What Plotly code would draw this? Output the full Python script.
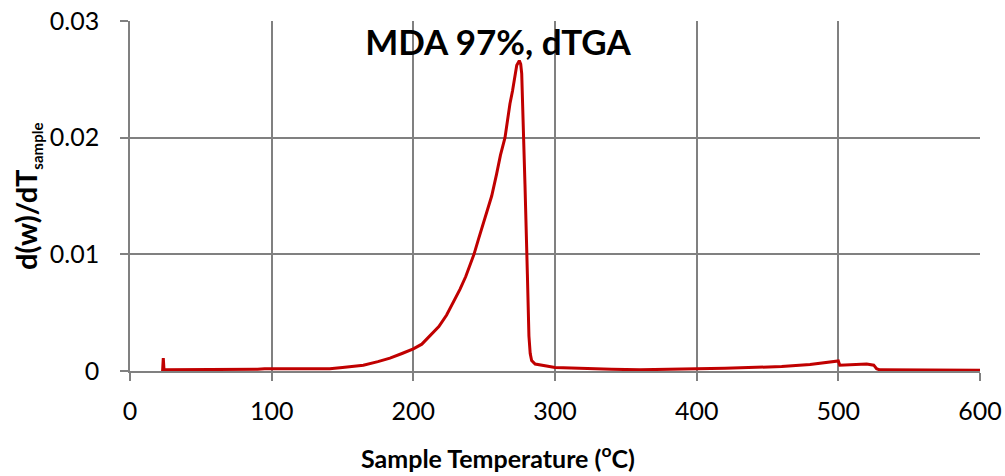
import plotly.graph_objects as go

# Sample temperature (°C) and dTGA values
temperature = [23, 23.5, 24, 30, 40, 50, 60, 70, 80, 90, 95, 100, 105, 110, 120, 130, 141, 150,
               164.7, 175, 183.5, 192, 200, 206, 211.8, 218, 223.5, 228, 232.9, 237, 240, 242.8,
               246, 249.4, 252, 255.3, 258.8, 261.5, 264.7, 267, 268.2, 270, 271.8, 273, 274.8,
               275.8, 276.5, 277.6, 278.8, 280.5, 281.6, 282.5, 283.5, 286, 289.4, 295, 300, 320,
               340, 360, 380, 400, 420, 440, 460, 480, 490, 499, 500, 501, 510, 520, 525, 527,
               529, 540, 560, 580, 600]
dtga = [0.0, 0.0011, 0.0001, 0.0001, 0.0001, 0.0001, 0.0001, 0.0001, 0.00012, 0.00015, 0.0002,
        0.0002, 0.00018, 0.00015, 0.00015, 0.00017, 0.0002, 0.0003,
        0.0005, 0.0008, 0.0011, 0.0015, 0.0019, 0.0023, 0.0030, 0.0038, 0.0048, 0.0058, 0.0070,
        0.0081, 0.0090, 0.0100, 0.0113, 0.0126, 0.0138, 0.0150, 0.0169, 0.0185, 0.0200, 0.0220,
        0.0229, 0.0240, 0.0252, 0.0262, 0.0266, 0.0263, 0.0255, 0.0200, 0.0160, 0.0083, 0.0030,
        0.0015, 0.0009, 0.0006, 0.0005, 0.0004, 0.0003, 0.0002,
        0.00015, 0.0001, 0.00012, 0.0002, 0.00024, 0.0003, 0.00038, 0.00055, 0.0007, 0.0008,
        0.00086, 0.0005, 0.00052, 0.0006, 0.0005, 0.0002, 0.0001, 0.0001, 0.00008, 0.00007,
        0.00006]

x_ticks = [0, 100, 200, 300, 400, 500, 600]
y_ticks = [0, 0.01, 0.02, 0.03]
y_tick_labels = ["0", "0.01", "0.02", "0.03"]

fig = go.Figure()
fig.add_trace(go.Scatter(x=temperature, y=dtga, mode="lines",
                         line=dict(color="#C00000", width=3), showlegend=False))

grid = "#808080"
fig.update_layout(
    width=1005, height=476,
    margin=dict(l=130, r=25, t=21, b=105, autoexpand=False),
    paper_bgcolor="white", plot_bgcolor="white",
    font=dict(family="Lato, Open Sans, sans-serif", color="black"),
    title=dict(text="<b>MDA 97%, dTGA</b>", x=0.4955, xanchor="center", xref="container",
               y=0.9097, yanchor="middle", yref="container",
               font=dict(size=35, color="black")),
    xaxis=dict(range=[0, 600], tickvals=x_ticks, showgrid=True, gridcolor=grid, gridwidth=1.5,
               showline=True, linecolor=grid, linewidth=1.5, ticks="outside", ticklen=8,
               tickcolor=grid, tickwidth=1.5, zeroline=False, tickfont=dict(size=25),
               ticklabelstandoff=9, automargin=False),
    yaxis=dict(range=[0, 0.03], tickvals=y_ticks, ticktext=y_tick_labels, showgrid=True,
               gridcolor=grid, gridwidth=1.5, showline=True, linecolor=grid, linewidth=1.5,
               ticks="outside", ticklen=8, tickcolor=grid, tickwidth=1.5, zeroline=False,
               tickfont=dict(size=25), ticklabelstandoff=16, automargin=False),
    annotations=[
        dict(text="<b>Sample Temperature (<sup>o</sup>C)</b>", xref="paper", yref="paper",
             x=0.4335, y=-0.2440, xanchor="center", yanchor="middle", showarrow=False,
             font=dict(size=25, color="black")),
        dict(text="<b>d(w)/dT<sub><span style='font-size:15px'>sample</span></sub></b>",
             xref="paper", yref="paper", x=-0.1212, y=0.5, xanchor="center", yanchor="middle",
             textangle=-90, showarrow=False, font=dict(size=29, color="black")),
    ],
)

fig.write_html("out.html")
